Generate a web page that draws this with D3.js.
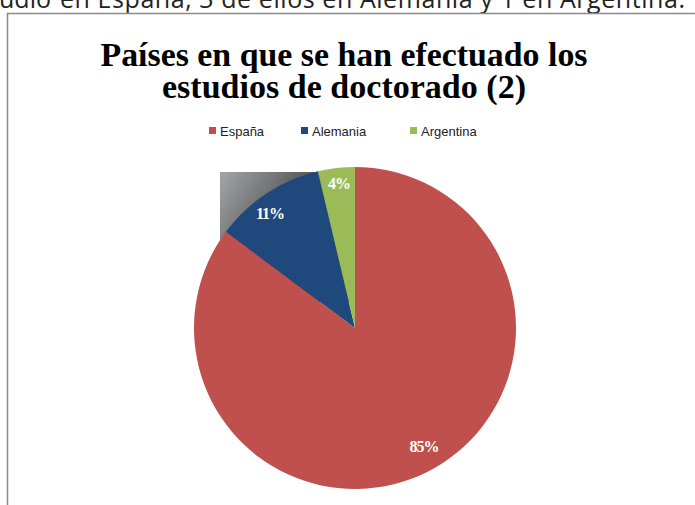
<!DOCTYPE html>
<html><head><meta charset="utf-8">
<script src="https://cdn.jsdelivr.net/npm/d3@7"></script>
<style>html,body{margin:0;padding:0;background:#fff;overflow:hidden}</style>
</head><body>
<script>
const categories = ["España", "Alemania", "Argentina"];
const values = [23, 3, 1];
const labels = ["85%", "11%", "4%"];
const colors = ["#C0504D", "#1F497D", "#9BBB59"];
const titleLines = ["Países en que se han efectuado los", "estudios de doctorado (2)"];
const topText = "han realizado su estudio en España, 3 de ellos en Alemania y 1 en Argentina.";

const W = 695, H = 505;
const svg = d3.select("body").append("svg").attr("width", W).attr("height", H);

// cut off paragraph text above the chart
svg.append("text").attr("x", 685).attr("y", 8).attr("text-anchor", "end")
  .attr("textLength", 625).attr("lengthAdjust", "spacing")
  .style("font-family", "Open Sans").style("font-size", "25px").attr("fill", "#222")
  .text(topText.slice(topText.indexOf("en España")));
svg.append("text").attr("x", 51).attr("y", 8).attr("text-anchor", "end")
  .style("font-family", "Open Sans").style("font-size", "25px").attr("fill", "#222")
  .text(topText.slice(0, topText.indexOf("en España")).trim());

// chart frame
svg.append("rect").attr("x", 7.5).attr("y", 13.5).attr("width", 700).attr("height", 500)
  .attr("fill", "#fff").attr("stroke", "#8a8a8a").attr("stroke-width", 1.5);

// title
const title = svg.append("g");
const tl = [{t: titleLines[0], y: 66, w: 487}, {t: titleLines[1], y: 98, w: 364}];
tl.forEach(d => {
  title.append("text").attr("x", 344).attr("y", d.y).attr("text-anchor", "middle")
    .attr("textLength", d.w).attr("lengthAdjust", "spacingAndGlyphs")
    .style("font-family", "Liberation Serif").style("font-weight", "bold").style("font-size", "34px")
    .attr("fill", "#000").text(d.t);
});

// legend
const legX = [209, 301, 410];
const leg = svg.append("g");
categories.forEach((c, i) => {
  leg.append("rect").attr("x", legX[i]).attr("y", 127).attr("width", 7).attr("height", 7).attr("fill", colors[i]);
  leg.append("text").attr("x", legX[i] + 11).attr("y", 135.5)
    .style("font-family", "Liberation Sans Narrow, Liberation Sans").style("font-size", "13px")
    .attr("fill", "#222").text(c);
});

// pie
const cx = 355, cy = 328, r = 161;
const defs = svg.append("defs");
const grad = defs.append("linearGradient").attr("id", "g1").attr("x1", "0").attr("y1", "0").attr("x2", "1").attr("y2", "0.6");
grad.append("stop").attr("offset", "0").attr("stop-color", "#a3a5a7");
grad.append("stop").attr("offset", "0.45").attr("stop-color", "#5f6062");
grad.append("stop").attr("offset", "1").attr("stop-color", "#3a3a3a");
svg.append("rect").attr("x", 220).attr("y", 172).attr("width", cx - 220).attr("height", 130).attr("fill", "url(#g1)");

const pie = d3.pie().sort(null).value(d => d)(values);
const arc = d3.arc().innerRadius(0).outerRadius(r);
const g = svg.append("g").attr("transform", `translate(${cx},${cy})`);
g.selectAll("path").data(pie).join("path").attr("d", arc).attr("fill", (d, i) => colors[i]);

const labelPos = [[69, 118], [-85, -115], [-16, -145]];
g.selectAll("text.l").data(pie).join("text").attr("class", "l")
  .attr("transform", (d, i) => `translate(${labelPos[i][0]},${labelPos[i][1]})`)
  .attr("text-anchor", "middle").attr("dy", "0.35em")
  .style("font-family", "Liberation Serif").style("font-weight", "bold").style("font-size", "16px")
  .attr("fill", "#fff").attr("letter-spacing", "-1px").text((d, i) => labels[i]);
</script>
</body></html>
